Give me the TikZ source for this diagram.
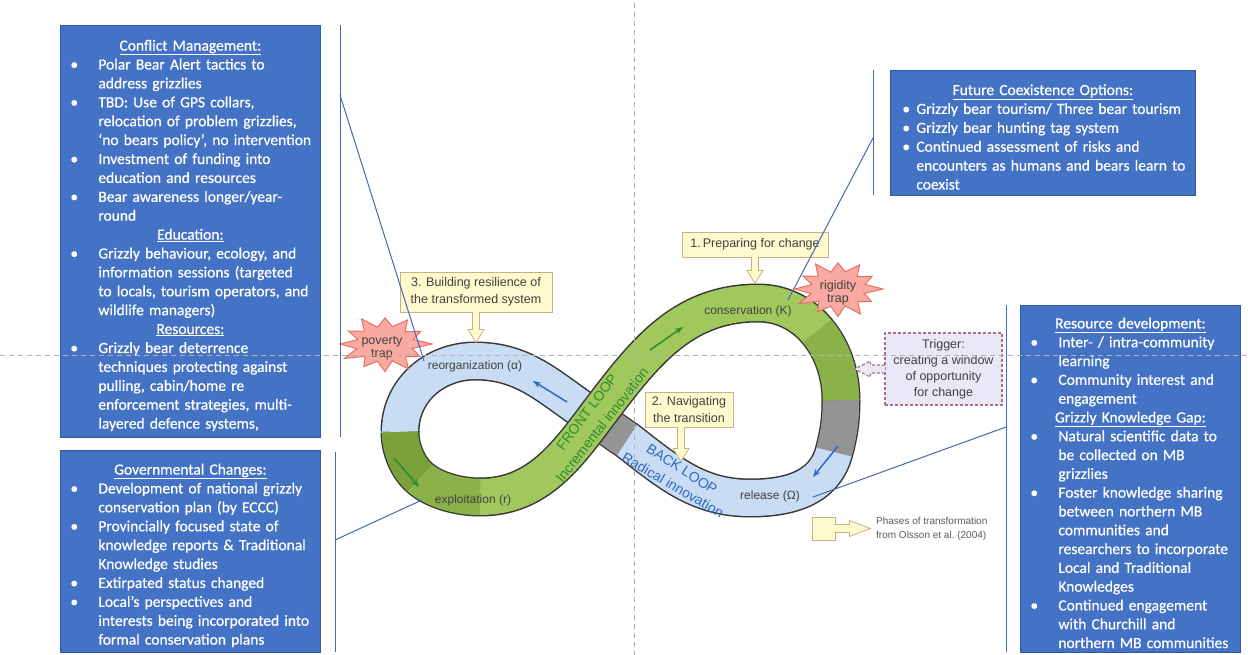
\documentclass[tikz,border=0pt]{standalone}
\usepackage{fontspec}
\setmainfont{Carlito}
\newfontfamily\boxfont[FakeBold=0.6]{Carlito}
\newfontfamily\arialf{Liberation Sans}
\usetikzlibrary{calc,arrows.meta}

\definecolor{boxblue}{RGB}{68,114,196}
\definecolor{boxedge}{RGB}{50,90,160}
\definecolor{linkblue}{RGB}{70,105,180}
\definecolor{bandblue}{RGB}{200,220,243}
\definecolor{bandgreen}{RGB}{160,200,92}
\definecolor{bandgreenmid}{RGB}{138,178,72}
\definecolor{bandgreendark}{RGB}{122,160,58}
\definecolor{bandgray}{RGB}{148,148,148}
\definecolor{bandedge}{RGB}{55,55,55}
\definecolor{frontgreen}{RGB}{45,140,45}
\definecolor{backblue}{RGB}{45,105,195}
\definecolor{calloutfill}{RGB}{255,250,205}
\definecolor{calloutedge}{RGB}{205,175,135}
\definecolor{burstfill}{RGB}{250,170,160}
\definecolor{burstedge}{RGB}{230,105,95}
\definecolor{trigfill}{RGB}{232,232,246}
\definecolor{trigedge}{RGB}{175,105,150}
\definecolor{guide}{RGB}{178,178,178}
\definecolor{labeltext}{RGB}{65,65,65}
\definecolor{legendtext}{RGB}{90,90,90}

\def\bwid{28pt}
\newcommand\boxhead[1]{\par\centerline{\underline{#1}}}
\newcommand\bitem[1]{\par\noindent\makebox[\bwid][l]{\textbullet}\mbox{#1}}
\newcommand\bcont[1]{\par\noindent\hspace*{\bwid}\mbox{#1}}
\newcommand\calldown[2]{\filldraw[callshape] ($#1+(-3.5,-0.6)$) -- ($#1+(-3.5,#2-13)$) -- ($#1+(-8,#2-13)$) -- ($#1+(0,#2)$) -- ($#1+(8,#2-13)$) -- ($#1+(3.5,#2-13)$) -- ($#1+(3.5,-0.6)$);}
\newcommand\burstpath[3]{\filldraw[burstshape] ($(#1)+(#2,0)$)
  \foreach \a/\f in {15/0.6,30/0.86,45/0.62,60/1.0,75/0.6,90/0.95,105/0.62,120/0.9,135/0.6,150/1.0,165/0.62,180/0.96,195/0.6,210/0.9,225/0.62,240/1.0,255/0.6,270/0.9,285/0.62,300/0.96,315/0.6,330/0.88,345/0.62}
  { -- ($(#1)+({#2*\f*cos(\a)},{#3*\f*sin(\a)})$) } -- cycle;}

\tikzset{
  bluebox/.style={draw=boxedge, fill=boxblue, line width=0.8pt, text=white, anchor=north west,
    inner sep=0pt, align=left, font=\boxfont\fontsize{15.5}{18.9}\selectfont},
  link/.style={draw=linkblue, line width=1pt},
  bandout/.style={draw=bandedge, line width=39pt, line cap=butt, line join=round},
  bandfill/.style={line width=36pt, line cap=butt, line join=round},
  bandlbl/.style={font=\arialf\fontsize{12}{14}\selectfont, text=labeltext, inner sep=0pt},
  looplbl/.style={font=\arialf\fontsize{14}{16}\selectfont, inner sep=0pt},
  bandarrow/.style={-{Stealth[length=8pt,width=6pt]}, line width=1.5pt},
  callout/.style={draw=calloutedge, fill=calloutfill, line width=0.8pt, align=center, inner sep=2pt,
    font=\arialf\fontsize{12.5}{16.5}\selectfont, text=labeltext},
  callshape/.style={draw=calloutedge, fill=calloutfill, line width=0.8pt, line join=miter},
  burstshape/.style={fill=burstfill, draw=burstedge, line width=0.9pt, line join=miter},
  traptext/.style={inner sep=0pt, align=center, font=\arialf\fontsize{12.5}{13}\selectfont, text=labeltext},
  trigbox/.style={draw=trigedge, fill=trigfill, dash pattern=on 3pt off 2pt, line width=1.2pt,
    align=center, font=\arialf\fontsize{12.5}{16}\selectfont, text=labeltext},
  trigarrow/.style={draw=trigedge, fill=trigfill, dash pattern=on 3pt off 2pt, line width=1.2pt},
  guideline/.style={draw=guide, line width=1pt, dash pattern=on 5pt off 4pt}
}

\begin{document}
\begin{tikzpicture}[x=1pt,y=-1pt]
\useasboundingbox (0,0) rectangle (1248,655);
\fill[white] (0,0) rectangle (1248,655);

% ---------- blue text boxes ----------
\node[bluebox, minimum width=260pt, minimum height=412pt, text width=240pt] (conflict) at (60,25) {%
\boxhead{Conflict Management:}
\bitem{Polar Bear Alert tactics to}
\bcont{address grizzlies}
\bitem{TBD: Use of GPS collars,}
\bcont{relocation of problem grizzlies,}
\bcont{‘no bears policy’, no intervention}
\bitem{Investment of funding into}
\bcont{education and resources}
\bitem{Bear awareness longer/year-}
\bcont{round}
\boxhead{Education:}
\bitem{Grizzly behaviour, ecology, and}
\bcont{information sessions (targeted}
\bcont{to locals, tourism operators, and}
\bcont{wildlife managers)}
\boxhead{Resources:}
\bitem{Grizzly bear deterrence}
\bcont{techniques protecting against}
\bcont{pulling, cabin/home re}
\bcont{enforcement strategies, multi-}
\bcont{layered defence systems,}};

\node[bluebox, minimum width=260pt, minimum height=202pt, text width=240pt] (gov) at (60,450) {%
\boxhead{Governmental Changes:}
\bitem{Development of national grizzly}
\bcont{conservation plan (by ECCC)}
\bitem{Provincially focused state of}
\bcont{knowledge reports \& Traditional}
\bcont{Knowledge studies}
\bitem{Extirpated status changed}
\bitem{Local’s perspectives and}
\bcont{interests being incorporated into}
\bcont{formal conservation plans}};

\node[bluebox, minimum width=305pt, minimum height=125pt, text width=281pt] (future) at (890,70) {%
\def\bwid{14pt}%
\boxhead{Future Coexistence Options:}
\bitem{Grizzly bear tourism/ Three bear tourism}
\bitem{Grizzly bear hunting tag system}
\bitem{Continued assessment of risks and}
\bcont{encounters as humans and bears learn to}
\bcont{coexist}};

\node[bluebox, minimum width=220pt, minimum height=347pt, text width=200pt, font=\boxfont\fontsize{15.5}{18.8}\selectfont] (resdev) at (1020,305) {%
\boxhead{Resource development:}
\bitem{Inter- / intra-community}
\bcont{learning}
\bitem{Community interest and}
\bcont{engagement}
\boxhead{Grizzly Knowledge Gap:}
\bitem{Natural scientific data to}
\bcont{be collected on MB}
\bcont{grizzlies}
\bitem{Foster knowledge sharing}
\bcont{between northern MB}
\bcont{communities and}
\bcont{researchers to incorporate}
\bcont{Local and Traditional}
\bcont{Knowledges}
\bitem{Continued engagement}
\bcont{with Churchill and}
\bcont{northern MB communities}};

% ---------- figure-eight band: back loop ----------
\draw[bandout] (400,432) .. controls (400,390) and (435,361) .. (475,361)
  .. controls (527,361) and (551,390) .. (595,418)
  .. controls (606,425) and (616,433) .. (627,440)
  .. controls (668,472) and (698,498) .. (750,498)
  .. controls (788,498) and (824,489) .. (834,452)
  .. controls (839,433) and (841,420) .. (841,400);
\draw[bandfill, draw=bandblue] (400,432) .. controls (400,390) and (435,361) .. (475,361)
  .. controls (527,361) and (551,390) .. (595,418)
  .. controls (606,425) and (616,433) .. (627,440)
  .. controls (668,472) and (698,498) .. (750,498)
  .. controls (788,498) and (824,489) .. (834,452)
  .. controls (839,433) and (841,420) .. (841,400);
\draw[bandfill, draw=bandgray] (595,418) .. controls (606,425) and (616,433) .. (627,440);
\draw[bandfill, draw=bandgray] (834,452) .. controls (839,433) and (841,420) .. (841,400);

% ---------- figure-eight band: front loop ----------
\draw[bandout] (841,400) .. controls (841,375) and (833,350) .. (817,331)
  .. controls (802,313) and (781,303) .. (758,303)
  .. controls (680,303) and (642,356) .. (595,418)
  .. controls (563,461) and (534,497) .. (480,497)
  .. controls (460,497) and (435,491) .. (420,478)
  .. controls (408,468) and (400,449) .. (400,432);
\draw[bandfill, draw=bandgreen] (841,400) .. controls (841,375) and (833,350) .. (817,331)
  .. controls (802,313) and (781,303) .. (758,303)
  .. controls (680,303) and (642,356) .. (595,418)
  .. controls (563,461) and (534,497) .. (480,497)
  .. controls (460,497) and (435,491) .. (420,478)
  .. controls (408,468) and (400,449) .. (400,432);
\draw[bandfill, draw=bandgreenmid] (841,400) .. controls (841,375) and (833,350) .. (817,331);
\draw[bandfill, draw=bandgreenmid] (480,497) .. controls (460,497) and (435,491) .. (420,478);
\draw[bandfill, draw=bandgreendark] (420,478) .. controls (408,468) and (400,449) .. (400,432);

% ---------- band labels and arrows ----------
\node[bandlbl] (reorg) at (475,366) {reorganization (α)};
\node[bandlbl] (cons) at (748,311) {conservation (K)};
\node[bandlbl] (expl) at (473,500) {exploitation (r)};
\node[bandlbl] (rel) at (770,496) {release (Ω)};
\node[looplbl, text=frontgreen, rotate=53] (fl) at (587,412) {FRONT LOOP};
\node[looplbl, text=frontgreen, rotate=52] (ii) at (602,425) {Incremental innovation};
\node[looplbl, text=backblue, rotate=-33] (bl) at (682,469) {BACK LOOP};
\node[looplbl, text=backblue, rotate=-30] (ri) at (673,485) {Radical innovation};

\draw[bandarrow, frontgreen] (650,350) -- (683,327);
\draw[bandarrow, frontgreen] (394,458) -- (419,487);
\draw[bandarrow, backblue] (567,402) -- (533,381);
\draw[bandarrow, backblue] (838,446) -- (813,477);

% ---------- callouts ----------
\node[callout, minimum width=146pt, minimum height=25pt] (c1) at (755,244.5) {1.\,Preparing for change};
\calldown{(c1.south)}{26}
\node[callout, minimum width=152pt, minimum height=40pt] (c3) at (476,292) {3. Building resilience of\\the transformed system};
\calldown{(c3.south)}{30}
\node[callout, minimum width=88pt, minimum height=35pt] (c2) at (689,409.5) {2. Navigating\\the transition};
\coordinate (c2a) at ($(c2.south)+(-8,0)$);
\calldown{(c2a)}{34}

% ---------- traps ----------
\coordinate (povc) at (385,344);
\coordinate (rigc) at (838,289);
\burstpath{povc}{47}{29}
\burstpath{rigc}{45}{29}
\node[traptext] (pov) at (382,348) {poverty\\trap};
\node[traptext] (rig) at (838,293) {rigidity\\trap};

% ---------- trigger ----------
\node[trigbox, minimum width=117pt, minimum height=72pt] (trig) at (943.5,369) {Trigger:\\creating a window\\of opportunity\\for change};
\filldraw[trigarrow] ($(trig.west)+(0.6,-4)$) -- ($(trig.west)+(-14,-4)$) -- ($(trig.west)+(-14,-8)$) -- ($(trig.west)+(-30,0)$) -- ($(trig.west)+(-14,8)$) -- ($(trig.west)+(-14,4)$) -- ($(trig.west)+(0.6,4)$);

% ---------- legend ----------
\node[callout, minimum width=23pt, minimum height=23pt, inner sep=0pt] (leg) at (823.5,528.5) {};
\filldraw[callshape] ($(leg.east)+(-0.6,-4)$) -- ($(leg.east)+(14,-4)$) -- ($(leg.east)+(14,-8)$) -- ($(leg.east)+(35,0)$) -- ($(leg.east)+(14,8)$) -- ($(leg.east)+(14,4)$) -- ($(leg.east)+(-0.6,4)$);
\node[anchor=west, align=left, inner sep=0pt, text=legendtext, font=\arialf\fontsize{10}{14.5}\selectfont] (legtxt) at (876,529) {Phases of transformation\\from Olsson et al.\ (2004)};

% ---------- connector lines ----------
\coordinate (v1t) at (340,25);  \coordinate (v1b) at (340,437);
\coordinate (d1s) at (340,95);  \coordinate (d1e) at (424,361);
\coordinate (v2t) at (335,452); \coordinate (v2b) at (335,652);
\coordinate (d2s) at (335,540); \coordinate (d2e) at (422,500);
\coordinate (v3t) at (873,70);  \coordinate (v3b) at (873,195);
\coordinate (d3s) at (873,138); \coordinate (d3e) at (788,300);
\coordinate (v4t) at (1006,305); \coordinate (v4b) at (1006,652);
\coordinate (d4s) at (1006,427); \coordinate (d4e) at (813,497);
\draw[link] (v1t) -- (v1b);  \draw[link] (d1s) -- (d1e);
\draw[link] (v2t) -- (v2b);  \draw[link] (d2s) -- (d2e);
\draw[link] (v3t) -- (v3b);  \draw[link] (d3s) -- (d3e);
\draw[link] (v4t) -- (v4b);  \draw[link] (d4s) -- (d4e);

% ---------- dashed guides ----------
\coordinate (gt) at (634,3);  \coordinate (gb) at (634,655);
\coordinate (gl) at (0,355);  \coordinate (gr) at (1248,355);
\draw[guideline] (gt) -- (gb);
\draw[guideline] (gl) -- (gr);
\end{tikzpicture}
\end{document}
